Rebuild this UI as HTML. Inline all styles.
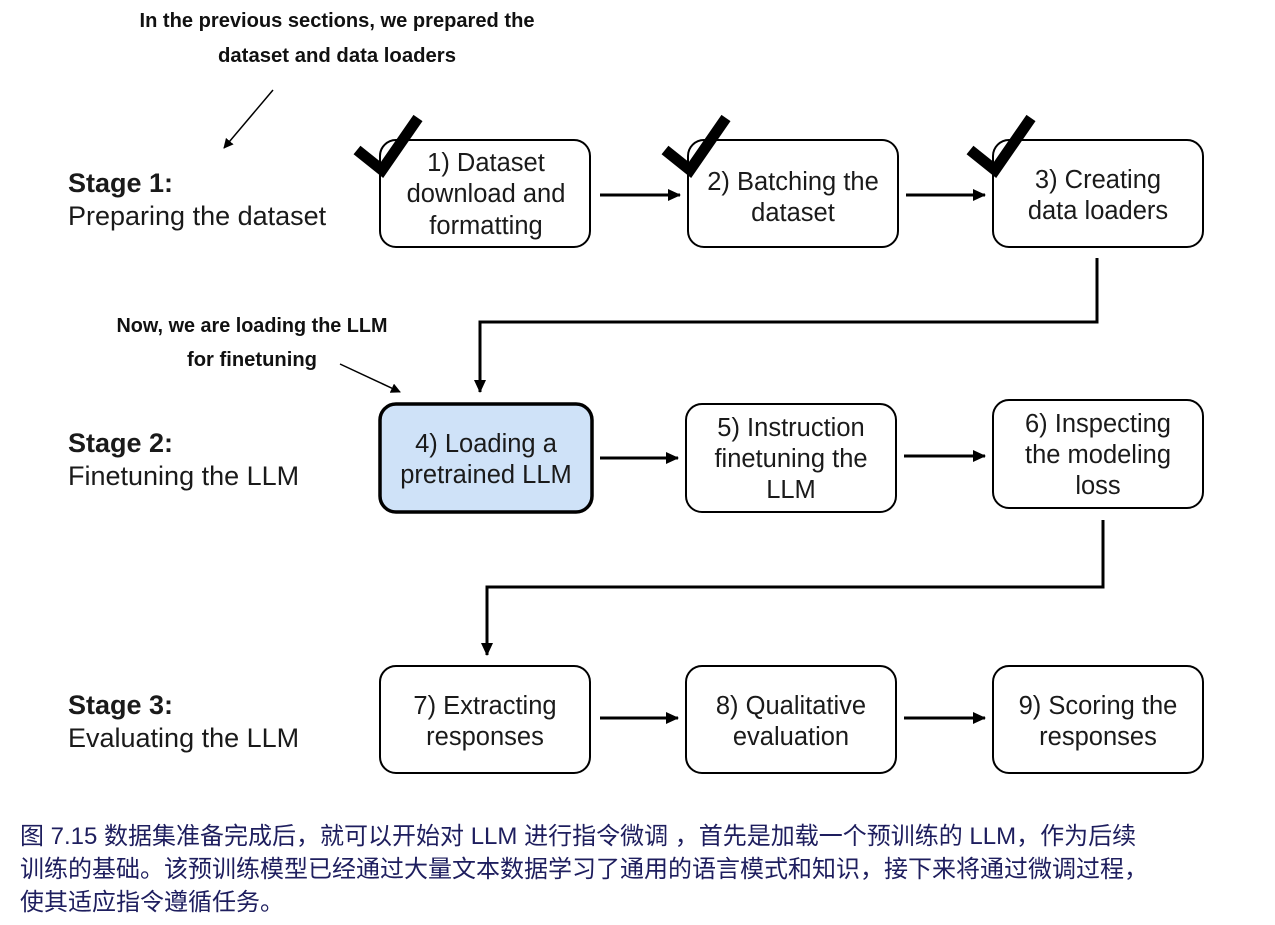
<!DOCTYPE html>
<html><head><meta charset="utf-8"><style>
html,body{margin:0;padding:0;background:#fff;width:1275px;height:925px;overflow:hidden}
svg{display:block}
.cap{position:absolute;left:20px;top:820px;white-space:nowrap;font-family:"Liberation Sans","Noto Sans CJK SC",sans-serif;font-size:24px;line-height:33px;color:#1e1e5e}
</style></head><body>
<svg width="1275" height="925" viewBox="0 0 1275 925" xmlns="http://www.w3.org/2000/svg" font-family="Liberation Sans, sans-serif">
<defs>
<marker id="ah" markerWidth="14" markerHeight="14" refX="12" refY="7" orient="auto" markerUnits="userSpaceOnUse"><path d="M0,1 L13,7 L0,13 z" fill="#000"/></marker>
<marker id="ahs" markerWidth="10" markerHeight="10" refX="9" refY="5" orient="auto" markerUnits="userSpaceOnUse"><path d="M0,0 L10,5 L0,10 z" fill="#000"/></marker>
</defs>
<g font-family="Liberation Sans Narrow, Liberation Sans, sans-serif" font-weight="bold" font-size="20" fill="#111" text-anchor="middle">
<text x="337" y="27" textLength="395" lengthAdjust="spacingAndGlyphs">In the previous sections, we prepared the</text>
<text x="337" y="62" textLength="238" lengthAdjust="spacingAndGlyphs">dataset and data loaders</text>
<text x="252" y="332" textLength="271" lengthAdjust="spacingAndGlyphs">Now, we are loading the LLM</text>
<text x="252" y="366" textLength="130" lengthAdjust="spacingAndGlyphs">for finetuning</text>
</g>
<line x1="273" y1="90" x2="224" y2="148" stroke="#000" stroke-width="1.5" marker-end="url(#ahs)"/>
<line x1="340" y1="364" x2="400" y2="392" stroke="#000" stroke-width="1.5" marker-end="url(#ahs)"/>
<g font-size="27" fill="#1a1a1a">
<text x="68" y="192" font-weight="bold">Stage 1:</text>
<text x="68" y="225">Preparing the dataset</text>
<text x="68" y="452" font-weight="bold">Stage 2:</text>
<text x="68" y="485">Finetuning the LLM</text>
<text x="68" y="714" font-weight="bold">Stage 3:</text>
<text x="68" y="747">Evaluating the LLM</text>
</g>
<g fill="#fff" stroke="#000" stroke-width="2">
<rect x="380" y="140" width="210" height="107" rx="16"/>
<rect x="688" y="140" width="210" height="107" rx="16"/>
<rect x="993" y="140" width="210" height="107" rx="16"/>
<rect x="380" y="404" width="212" height="108" rx="16" fill="#cfe2f8" stroke-width="3.5"/>
<rect x="686" y="404" width="210" height="108" rx="16"/>
<rect x="993" y="400" width="210" height="108" rx="16"/>
<rect x="380" y="666" width="210" height="107" rx="16"/>
<rect x="686" y="666" width="210" height="107" rx="16"/>
<rect x="993" y="666" width="210" height="107" rx="16"/>
</g>
<g stroke="#000" stroke-width="11" fill="none" stroke-linecap="butt">
<path d="M357,150 L382,170 L418,118"/>
<path d="M665,150 L690,170 L726,118"/>
<path d="M970,150 L995,170 L1031,118"/>
</g>
<g font-size="25.5" fill="#1a1a1a" text-anchor="middle">
<text x="486" y="171">1) Dataset</text><text x="486" y="202">download and</text><text x="486" y="234">formatting</text>
<text x="793" y="190">2) Batching the</text><text x="793" y="221">dataset</text>
<text x="1098" y="188">3) Creating</text><text x="1098" y="219">data loaders</text>
<text x="486" y="452">4) Loading a</text><text x="486" y="483">pretrained LLM</text>
<text x="791" y="436">5) Instruction</text><text x="791" y="467">finetuning the</text><text x="791" y="498">LLM</text>
<text x="1098" y="432">6) Inspecting</text><text x="1098" y="463">the modeling</text><text x="1098" y="494">loss</text>
<text x="485" y="714">7) Extracting</text><text x="485" y="745">responses</text>
<text x="791" y="714">8) Qualitative</text><text x="791" y="745">evaluation</text>
<text x="1098" y="714">9) Scoring the</text><text x="1098" y="745">responses</text>
</g>
<g stroke="#000" stroke-width="3" fill="none">
<line x1="600" y1="195" x2="680" y2="195" marker-end="url(#ah)"/>
<line x1="906" y1="195" x2="985" y2="195" marker-end="url(#ah)"/>
<line x1="600" y1="458" x2="678" y2="458" marker-end="url(#ah)"/>
<line x1="904" y1="456" x2="985" y2="456" marker-end="url(#ah)"/>
<line x1="600" y1="718" x2="678" y2="718" marker-end="url(#ah)"/>
<line x1="904" y1="718" x2="985" y2="718" marker-end="url(#ah)"/>
<path d="M1097,258 L1097,322 L480,322 L480,392" marker-end="url(#ah)"/>
<path d="M1103,520 L1103,587 L487,587 L487,655" marker-end="url(#ah)"/>
</g>
</svg>
<div class="cap">图 7.15 数据集准备完成后，就可以开始对 LLM 进行指令微调 ，首先是加载一个预训练的 LLM，作为后续<br>训练的基础。该预训练模型已经通过大量文本数据学习了通用的语言模式和知识，接下来将通过微调过程，<br>使其适应指令遵循任务。</div>
</body></html>
